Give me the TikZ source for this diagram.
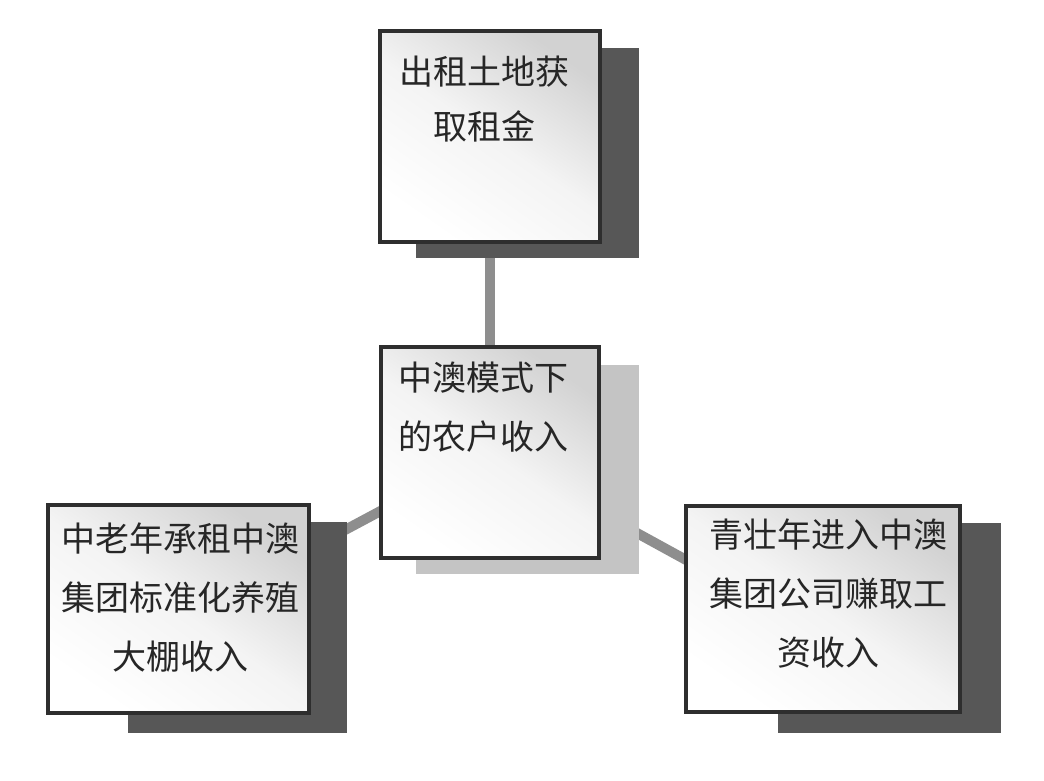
\documentclass[tikz,border=0pt]{standalone}
\usepackage{fontspec}
\newfontfamily\cjk{Noto Sans CJK SC}
\usetikzlibrary{calc}
\definecolor{darkshadow}{HTML}{575757}
\definecolor{lightshadow}{HTML}{C4C4C4}
\definecolor{linkgray}{HTML}{8E8E8E}
\definecolor{boxborder}{HTML}{2E2E2E}
\definecolor{boxtint}{HTML}{D2D2D2}
\pgfdeclarelayer{linklayer}
\pgfdeclarelayer{shadowlayer}
\pgfsetlayers{linklayer,shadowlayer,main}
\begin{document}
\begin{tikzpicture}[x=1pt,y=1pt,
  panel/.style={draw=boxborder, line width=4pt, inner sep=0pt, anchor=north west,
    top color=boxtint, bottom color=white, middle color=white!75!boxtint, shading angle=-35},
  boxtext/.style={font=\cjk\fontsize{34}{59}\selectfont, align=center, text=black!85, inner sep=0pt},
  link/.style={draw=linkgray, line width=10pt},
  darkshade/.style={fill=darkshadow},
  lightshade/.style={fill=lightshadow}]
\useasboundingbox (0,0) rectangle (1044,781);

% boxes
\node[panel, minimum width=220pt, minimum height=211pt] (t) at (378,752) {};
\node[panel, minimum width=218pt, minimum height=211pt] (c) at (379,436) {};
\node[panel, minimum width=261pt, minimum height=208pt] (l) at (46,278) {};
\node[panel, minimum width=274pt, minimum height=206pt] (r) at (684,277) {};

% texts
\node[boxtext, font=\cjk\fontsize{34}{55}\selectfont] (tt) at (484,681.5) {出租土地获\\取租金};
\node[boxtext] (ct) at (483,373.5) {中澳模式下\\的农户收入};
\node[boxtext] (lt) at (180,183.5) {中老年承租中澳\\集团标准化养殖\\大棚收入};
\node[boxtext] (rt) at (828,187) {青壮年进入中澳\\集团公司赚取工\\资收入};

% shadows
\begin{pgfonlayer}{shadowlayer}
\fill[darkshade] (416,733) rectangle (639,523);
\fill[lightshade] (416,416) rectangle (639,207);
\fill[darkshade] (128,259) rectangle (347,48);
\fill[darkshade] (778,258) rectangle (1001,48);
\end{pgfonlayer}

% connectors
\begin{pgfonlayer}{linklayer}
\fill[white] (0,0) rectangle (1044,781);
\coordinate (lend) at ($(l.center)+(0,-10)$);
\coordinate (rend) at ($(r.center)+(0,-26)$);
\draw[link] (t.center) -- (c.center);
\draw[link] (c.center) -- (lend);
\draw[link] (c.center) -- (rend);
\end{pgfonlayer}
\end{tikzpicture}
\end{document}
